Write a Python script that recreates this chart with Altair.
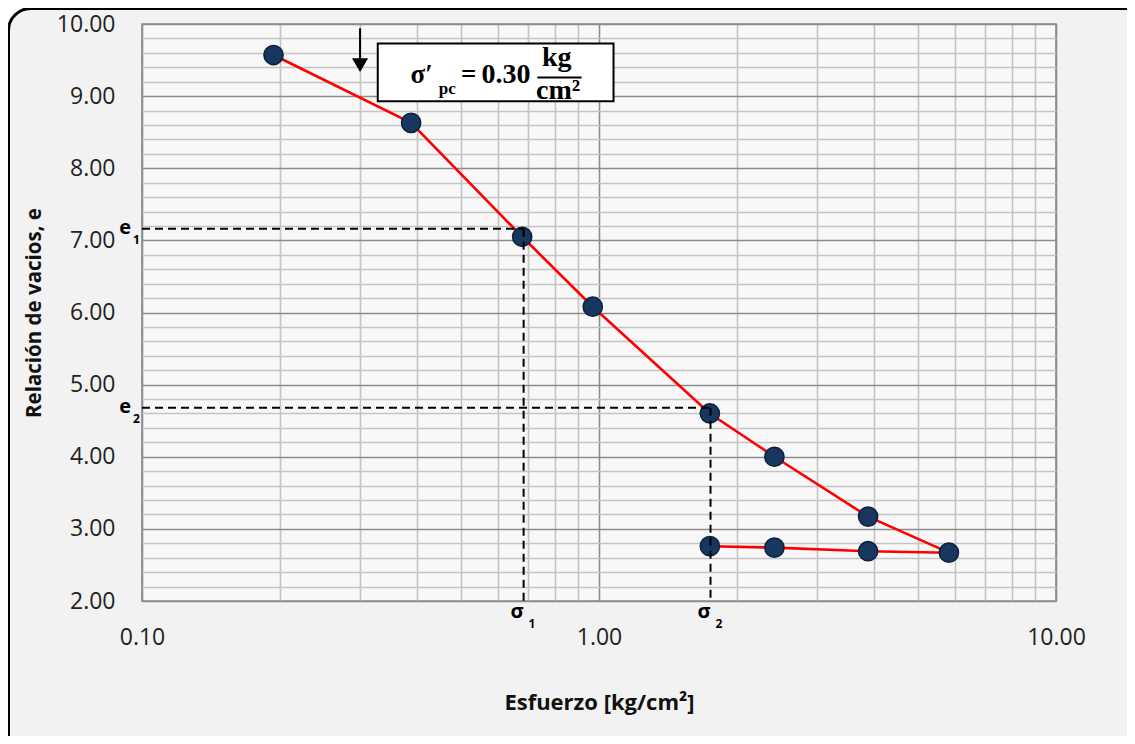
import altair as alt
import pandas as pd

# ---- data ----
sigma_load = [0.194, 0.388, 0.679, 0.969, 1.748, 2.42, 3.88, 5.83]
e_load = [9.57, 8.63, 7.05, 6.08, 4.60, 4.00, 3.17, 2.67]
sigma_unload = [3.88, 2.42, 1.748]
e_unload = [2.69, 2.74, 2.76]

e_marks = [7.16, 4.68]          # e1, e2
sigma_marks = [0.684, 1.754]    # sigma1, sigma2
e_names = ["1", "2"]

x_ticks = [0.1, 0.2, 0.3, 0.4, 0.5, 0.6, 0.7, 0.8, 0.9, 1, 2, 3, 4, 5, 6, 7, 8, 9, 10]
y_ticks = [2.0, 2.2, 2.4, 2.6, 2.8, 3.0, 3.2, 3.4, 3.6, 3.8, 4.0, 4.2, 4.4, 4.6, 4.8,
           5.0, 5.2, 5.4, 5.6, 5.8, 6.0, 6.2, 6.4, 6.6, 6.8, 7.0, 7.2, 7.4, 7.6, 7.8,
           8.0, 8.2, 8.4, 8.6, 8.8, 9.0, 9.2, 9.4, 9.6, 9.8, 10.0]

# annotation anchors (data coordinates)
pc_value = 0.30
arrow_y = [9.94, 9.50]
arrow_head_y = 9.43
box_x = [0.328, 1.076]
box_y = [8.93, 9.73]
frac_x = [0.733, 0.916]
frac_y = 9.259

W, H = 914, 577
LBL_FONT = "Open Sans"

xs = alt.Scale(type="log", domain=[0.1, 10], nice=False)
ys = alt.Scale(domain=[2, 10], nice=False, zero=False)

x_axis = alt.Axis(
    values=x_ticks, title="Esfuerzo [kg/cm²]",
    labelExpr="(abs(log(datum.value)/LN10 - round(log(datum.value)/LN10)) < 0.001) ? format(datum.value, '.2f') : ''",
    grid=True,
    gridColor={"condition": {"test": "abs(log(datum.value)/LN10 - round(log(datum.value)/LN10)) < 0.001", "value": "#8c8c8c"}, "value": "#c4c4c4"},
    gridWidth=1.6, ticks=False, tickSize=0, domain=False,
    labelFont=LBL_FONT, labelFontSize=23, labelColor="#222222", labelPadding=25,
    labelOverlap=False, labelFlush=False,
    titleFont=LBL_FONT, titleFontSize=22, titleFontWeight="bold", titleColor="#111111",
    titlePadding=43,
)
y_axis = alt.Axis(
    values=y_ticks, title="Relación de vacios, e",
    labelExpr="(abs(datum.value - round(datum.value)) < 0.001) ? format(datum.value, '.2f') : ''",
    grid=True,
    gridColor={"condition": {"test": "abs(datum.value - round(datum.value)) < 0.001", "value": "#8c8c8c"}, "value": "#c4c4c4"},
    gridWidth=1.6, ticks=False, tickSize=0, domain=False,
    labelFont=LBL_FONT, labelFontSize=23, labelColor="#222222", labelPadding=27,
    labelOverlap=False, labelFlush=False,
    titleFont=LBL_FONT, titleFontSize=20.5, titleFontWeight="bold", titleColor="#111111",
    titlePadding=12,
)


def X(f):
    return alt.X(f, type="quantitative", scale=xs, axis=x_axis)


def Y(f):
    return alt.Y(f, type="quantitative", scale=ys, axis=y_axis)


curve = pd.DataFrame({
    "s": sigma_load + sigma_unload,
    "e": e_load + e_unload,
    "i": list(range(len(sigma_load) + len(sigma_unload))),
})

line = alt.Chart(curve).mark_line(color="#ff0000", strokeWidth=2.6).encode(
    x=X("s"), y=Y("e"), order="i:Q")
points = alt.Chart(curve).mark_point(
    filled=True, fill="#17375e", stroke="#0c213d", strokeWidth=1.5, size=370, opacity=1
).encode(x=X("s"), y=Y("e"))

# dashed guide lines
seg = pd.DataFrame({
    "s": [0.1, sigma_marks[0], 0.1, sigma_marks[1]],
    "s2": [sigma_marks[0], sigma_marks[0], sigma_marks[1], sigma_marks[1]],
    "e": [e_marks[0], e_marks[0], e_marks[1], e_marks[1]],
    "e2": [e_marks[0], 2.0, e_marks[1], 2.0],
})
dashes = alt.Chart(seg).mark_rule(color="black", strokeWidth=2, strokeDash=[8, 5]).encode(
    x=X("s"), x2="s2:Q", y=Y("e"), y2="e2:Q")

lab_e = pd.DataFrame({"s": [0.1, 0.1], "e": e_marks, "t": ["e", "e"], "sub": e_names})
e_text = alt.Chart(lab_e).mark_text(
    font=LBL_FONT, fontWeight="bold", fontSize=20, align="right", baseline="alphabetic", dx=-11, dy=5, color="black"
).encode(x=X("s"), y=Y("e"), text="t:N")
e_sub = alt.Chart(lab_e).mark_text(
    font=LBL_FONT, fontWeight="bold", fontSize=12, align="left", baseline="alphabetic", dx=-9, dy=15, color="black"
).encode(x=X("s"), y=Y("e"), text="sub:N")

lab_s = pd.DataFrame({"s": sigma_marks, "e": [2.0, 2.0], "t": ["σ", "σ"], "sub": e_names})
s_text = alt.Chart(lab_s).mark_text(
    font=LBL_FONT, fontWeight="bold", fontSize=20, align="right", baseline="alphabetic", dx=0, dy=17, color="black"
).encode(x=X("s"), y=Y("e"), text="t:N")
s_sub = alt.Chart(lab_s).mark_text(
    font=LBL_FONT, fontWeight="bold", fontSize=12, align="left", baseline="alphabetic", dx=5, dy=27, color="black"
).encode(x=X("s"), y=Y("e"), text="sub:N")

# arrow pointing at sigma'_pc
arr = pd.DataFrame({"s": [pc_value], "e": [arrow_y[0]], "e2": [arrow_y[1]], "eh": [arrow_head_y]})
arrow = alt.Chart(arr).mark_rule(color="black", strokeWidth=2).encode(x=X("s"), y=Y("e"), y2="e2:Q")
head = alt.Chart(arr).mark_point(shape="triangle-down", filled=True, color="black", size=260, opacity=1).encode(
    x=X("s"), y=Y("eh"))

# formula box
bx = pd.DataFrame({"s": [box_x[0]], "s2": [box_x[1]], "e": [box_y[0]], "e2": [box_y[1]]})
box = alt.Chart(bx).mark_rect(fill="white", stroke="black", strokeWidth=2).encode(
    x=X("s"), x2="s2:Q", y=Y("e"), y2="e2:Q")

SERIF = "Liberation Serif"
fl = pd.DataFrame({"s": [0.387, 0.446, 0.499, 0.553], "e": [9.186, 9.03, 9.186, 9.186],
                   "t": ["σ′", "pc", "=", "0.30"], "fs": [27, 17, 27, 28]})
f_left = alt.Chart(fl).mark_text(font=SERIF, fontWeight="bold", align="left", baseline="alphabetic", color="black").encode(
    x=X("s"), y=Y("e"), text="t:N", size=alt.Size("fs:Q", scale=None, legend=None))
fc = pd.DataFrame({"s": [0.808, 0.814], "e": [9.42, 8.955], "t": ["kg", "cm²"]})
f_center = alt.Chart(fc).mark_text(font=SERIF, fontWeight="bold", fontSize=28, align="center", baseline="alphabetic", color="black").encode(
    x=X("s"), y=Y("e"), text="t:N")
fb = pd.DataFrame({"s": [frac_x[0]], "s2": [frac_x[1]], "e": [frac_y]})
f_bar = alt.Chart(fb).mark_rule(color="black", strokeWidth=2).encode(x=X("s"), x2="s2:Q", y=Y("e"))

# outer rounded frame (decoration)
one = pd.DataFrame({"k": [0]})
mask = alt.Chart(one).mark_rect(filled=False, stroke="white", strokeWidth=30, cornerRadius=37).encode(
    x=alt.value(-148.5), x2=alt.value(1020), y=alt.value(-30.5), y2=alt.value(770))
frame = alt.Chart(one).mark_rect(filled=False, stroke="black", strokeWidth=3, cornerRadius=22).encode(
    x=alt.value(-133.5), x2=alt.value(1005), y=alt.value(-15.5), y2=alt.value(755))

chart = alt.layer(
    line, points, dashes, e_text, e_sub, s_text, s_sub, arrow, head, box, f_left, f_center, f_bar, mask, frame
).properties(
    width=W, height=H,
    autosize=alt.AutoSizeParams(type="none"),
    padding={"left": 134, "top": 16, "right": 71, "bottom": 135},
    background="#f2f2f2",
).configure_view(fill="#f8f8f8", stroke="#8c8c8c", strokeWidth=1.6)

chart.save("out.html", embed_options={"renderer": "svg", "actions": False})
